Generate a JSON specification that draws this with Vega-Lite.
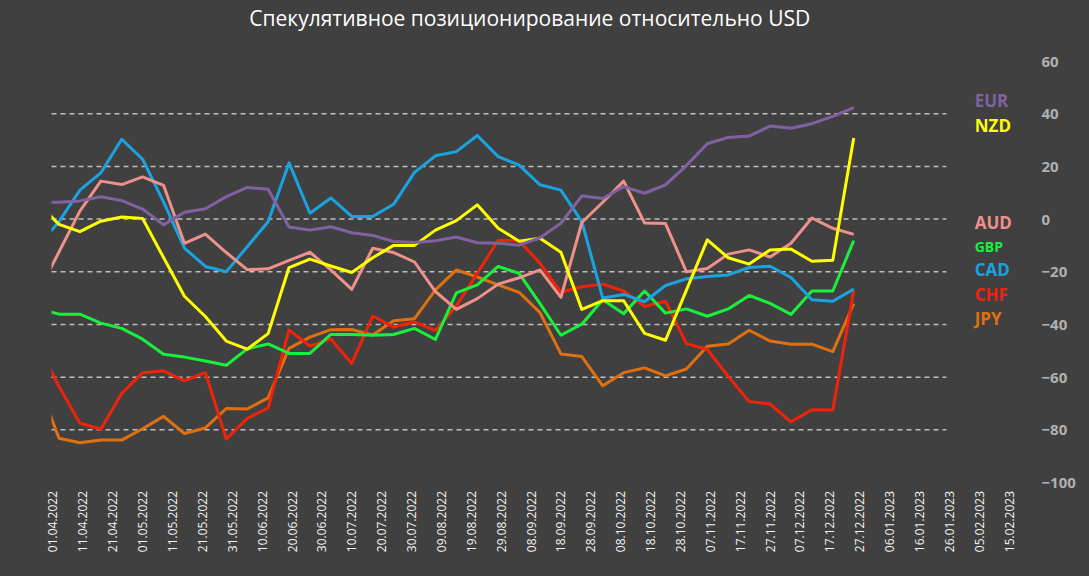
{
  "$schema": "https://vega.github.io/schema/vega-lite/v6.json",
  "width": 978.5,
  "height": 421.5,
  "autosize": "none",
  "padding": {"left": 51.5, "top": 61, "right": 59, "bottom": 93.5},
  "background": "#404040",
  "config": {"view": {"stroke": null}, "font": "Open Sans"},
  "title": {"text": "Спекулятивное позиционирование относительно USD", "color": "#FFFFFF", "fontSize": 21, "fontWeight": "normal", "font": "Open Sans", "anchor": "middle", "offset": 24, "dx": -11},
  "resolve": {"axis": {"x": "independent", "y": "independent"}},
  "datasets": {
    "cot": [
      {"d": "2022-03-27", "EUR": 6.3, "NZD": 6, "AUD": -28, "GBP": -34, "CAD": -10, "CHF": -48, "JPY": -62},
      {"d": "2022-04-03", "EUR": 6.4, "NZD": -2, "AUD": -12.5, "GBP": -36.1, "CAD": -1, "CHF": -63.6, "JPY": -83.2},
      {"d": "2022-04-10", "EUR": 6.9, "NZD": -4.8, "AUD": 3, "GBP": -36.1, "CAD": 11, "CHF": -77.4, "JPY": -84.9},
      {"d": "2022-04-17", "EUR": 8.5, "NZD": -0.8, "AUD": 14.4, "GBP": -39.5, "CAD": 17.5, "CHF": -79.8, "JPY": -83.9},
      {"d": "2022-04-24", "EUR": 7, "NZD": 0.8, "AUD": 13.1, "GBP": -41.5, "CAD": 30.3, "CHF": -66.2, "JPY": -83.9},
      {"d": "2022-05-01", "EUR": 3.8, "NZD": 0.2, "AUD": 16, "GBP": -45.6, "CAD": 22.7, "CHF": -58.3, "JPY": -79.6},
      {"d": "2022-05-08", "EUR": -2.2, "NZD": -14.6, "AUD": 12.8, "GBP": -51.3, "CAD": 6.5, "CHF": -57.6, "JPY": -74.9},
      {"d": "2022-05-15", "EUR": 2.6, "NZD": -29.3, "AUD": -9.2, "GBP": -52.4, "CAD": -11, "CHF": -61.4, "JPY": -81.4},
      {"d": "2022-05-22", "EUR": 3.9, "NZD": -37, "AUD": -5.7, "GBP": -53.9, "CAD": -18, "CHF": -58.3, "JPY": -79.3},
      {"d": "2022-05-29", "EUR": 8.5, "NZD": -46.3, "AUD": -12.7, "GBP": -55.5, "CAD": -20, "CHF": -83.5, "JPY": -71.9},
      {"d": "2022-06-05", "EUR": 12, "NZD": -49.4, "AUD": -19.2, "GBP": -49.3, "CAD": -10.5, "CHF": -75.7, "JPY": -72.1},
      {"d": "2022-06-12", "EUR": 11.3, "NZD": -43.5, "AUD": -18.9, "GBP": -47.4, "CAD": -1, "CHF": -71.7, "JPY": -67.9},
      {"d": "2022-06-19", "EUR": -3, "NZD": -18.4, "AUD": -15.7, "GBP": -51, "CAD": 21.3, "CHF": -42.1, "JPY": -49.1},
      {"d": "2022-06-26", "EUR": -4.2, "NZD": -15.2, "AUD": -12.6, "GBP": -51, "CAD": 2.2, "CHF": -48.2, "JPY": -44.8},
      {"d": "2022-07-03", "EUR": -2.9, "NZD": -17.8, "AUD": -19.3, "GBP": -43.8, "CAD": 8, "CHF": -45.5, "JPY": -42},
      {"d": "2022-07-10", "EUR": -5.2, "NZD": -20.3, "AUD": -26.7, "GBP": -43.8, "CAD": 1, "CHF": -54.8, "JPY": -41.9},
      {"d": "2022-07-17", "EUR": -6.2, "NZD": -14.7, "AUD": -11.1, "GBP": -44.1, "CAD": 1, "CHF": -36.8, "JPY": -44},
      {"d": "2022-07-24", "EUR": -8.5, "NZD": -10, "AUD": -12.7, "GBP": -43.8, "CAD": 5.6, "CHF": -41, "JPY": -38.6},
      {"d": "2022-07-31", "EUR": -8.9, "NZD": -10, "AUD": -16.3, "GBP": -41.5, "CAD": 17.7, "CHF": -39.1, "JPY": -37.8},
      {"d": "2022-08-07", "EUR": -8.2, "NZD": -4.2, "AUD": -27.5, "GBP": -45.7, "CAD": 24, "CHF": -42.3, "JPY": -26.9},
      {"d": "2022-08-14", "EUR": -6.8, "NZD": -0.6, "AUD": -34.3, "GBP": -28, "CAD": 25.6, "CHF": -33, "JPY": -19.3},
      {"d": "2022-08-21", "EUR": -9, "NZD": 5.4, "AUD": -30.2, "GBP": -25, "CAD": 31.7, "CHF": -20.6, "JPY": -22},
      {"d": "2022-08-28", "EUR": -9.2, "NZD": -3.5, "AUD": -24.7, "GBP": -18, "CAD": 23.7, "CHF": -8, "JPY": -25},
      {"d": "2022-09-04", "EUR": -9.9, "NZD": -8.4, "AUD": -22.3, "GBP": -20.6, "CAD": 20.5, "CHF": -8.2, "JPY": -27.8},
      {"d": "2022-09-11", "EUR": -7.1, "NZD": -7.3, "AUD": -19.3, "GBP": -32.1, "CAD": 13, "CHF": -16.8, "JPY": -35.5},
      {"d": "2022-09-18", "EUR": -1.6, "NZD": -12.6, "AUD": -29.7, "GBP": -44.1, "CAD": 11, "CHF": -27.8, "JPY": -51.2},
      {"d": "2022-09-25", "EUR": 8.8, "NZD": -34.3, "AUD": -1.3, "GBP": -39.9, "CAD": -1, "CHF": -25.7, "JPY": -52.2},
      {"d": "2022-10-02", "EUR": 7.8, "NZD": -31, "AUD": 6.4, "GBP": -30.6, "CAD": -30, "CHF": -24.7, "JPY": -63.3},
      {"d": "2022-10-09", "EUR": 12.3, "NZD": -31, "AUD": 14.4, "GBP": -35.9, "CAD": -28.6, "CHF": -27.3, "JPY": -58.3},
      {"d": "2022-10-16", "EUR": 9.8, "NZD": -43.4, "AUD": -1.5, "GBP": -27.3, "CAD": -31.4, "CHF": -33.2, "JPY": -56.5},
      {"d": "2022-10-23", "EUR": 13, "NZD": -46, "AUD": -1.7, "GBP": -35.7, "CAD": -25.2, "CHF": -31.2, "JPY": -59.5},
      {"d": "2022-10-30", "EUR": 20.3, "NZD": -27, "AUD": -20, "GBP": -34.1, "CAD": -22.7, "CHF": -47.3, "JPY": -56.9},
      {"d": "2022-11-06", "EUR": 28.6, "NZD": -7.9, "AUD": -18.8, "GBP": -36.9, "CAD": -21.8, "CHF": -49.5, "JPY": -48.3},
      {"d": "2022-11-13", "EUR": 31, "NZD": -14.7, "AUD": -13.3, "GBP": -34.1, "CAD": -21.2, "CHF": -59.7, "JPY": -47.4},
      {"d": "2022-11-20", "EUR": 31.5, "NZD": -17.1, "AUD": -11.7, "GBP": -29, "CAD": -18.4, "CHF": -69.3, "JPY": -42.2},
      {"d": "2022-11-27", "EUR": 35.3, "NZD": -11.7, "AUD": -14.4, "GBP": -32, "CAD": -17.9, "CHF": -70.2, "JPY": -46.3},
      {"d": "2022-12-04", "EUR": 34.5, "NZD": -11.4, "AUD": -9.2, "GBP": -36.2, "CAD": -22.2, "CHF": -77, "JPY": -47.5},
      {"d": "2022-12-11", "EUR": 36.2, "NZD": -16, "AUD": 0.4, "GBP": -27.3, "CAD": -30.6, "CHF": -72.4, "JPY": -47.5},
      {"d": "2022-12-18", "EUR": 39, "NZD": -15.6, "AUD": -3.5, "GBP": -27.3, "CAD": -31.2, "CHF": -72.5, "JPY": -50.3},
      {"d": "2022-12-25", "EUR": 42.3, "NZD": 30.8, "AUD": -5.8, "GBP": -8.2, "CAD": -26.6, "CHF": -27.2, "JPY": -32.1}
    ],
    "grid": [{"g": -80}, {"g": -60}, {"g": -40}, {"g": -20}, {"g": 0}, {"g": 20}, {"g": 40}],
    "labels": [
      {"cur": "EUR", "slot": 44.5},
      {"cur": "NZD", "slot": 35},
      {"cur": "AUD", "slot": -1.9},
      {"cur": "GBP", "slot": -11},
      {"cur": "CAD", "slot": -19.7},
      {"cur": "CHF", "slot": -29.2},
      {"cur": "JPY", "slot": -38.2}
    ]
  },
  "layer": [
    {
      "data": {"name": "grid"},
      "mark": {"type": "rule", "color": "#BFBFBF", "strokeWidth": 1.5, "strokeDash": [5, 4]},
      "encoding": {
        "y": {"field": "g", "type": "quantitative", "axis": null},
        "x": {"datum": {"year": 2022, "month": 3, "date": 31, "hours": 12, "utc": true}, "type": "temporal", "scale": {"type": "utc"}, "axis": null},
        "x2": {"datum": {"year": 2023, "month": 1, "date": 25, "utc": true}}
      }
    },
    {
      "data": {"name": "cot"},
      "transform": [{"fold": ["JPY", "CHF", "GBP", "CAD", "AUD", "NZD", "EUR"], "as": ["cur", "v"]}],
      "mark": {"type": "line", "strokeWidth": 3, "clip": true, "strokeJoin": "round"},
      "encoding": {
        "x": {
          "field": "d", "type": "temporal",
          "scale": {"type": "utc", "domain": [{"year": 2022, "month": 3, "date": 31, "hours": 12, "utc": true}, {"year": 2023, "month": 2, "date": 22, "utc": true}]},
          "axis": {
            "values": [
              {"year": 2022, "month": 4, "date": 1, "utc": true}, {"year": 2022, "month": 4, "date": 11, "utc": true}, {"year": 2022, "month": 4, "date": 21, "utc": true},
              {"year": 2022, "month": 5, "date": 1, "utc": true}, {"year": 2022, "month": 5, "date": 11, "utc": true}, {"year": 2022, "month": 5, "date": 21, "utc": true}, {"year": 2022, "month": 5, "date": 31, "utc": true},
              {"year": 2022, "month": 6, "date": 10, "utc": true}, {"year": 2022, "month": 6, "date": 20, "utc": true}, {"year": 2022, "month": 6, "date": 30, "utc": true},
              {"year": 2022, "month": 7, "date": 10, "utc": true}, {"year": 2022, "month": 7, "date": 20, "utc": true}, {"year": 2022, "month": 7, "date": 30, "utc": true},
              {"year": 2022, "month": 8, "date": 9, "utc": true}, {"year": 2022, "month": 8, "date": 19, "utc": true}, {"year": 2022, "month": 8, "date": 29, "utc": true},
              {"year": 2022, "month": 9, "date": 8, "utc": true}, {"year": 2022, "month": 9, "date": 18, "utc": true}, {"year": 2022, "month": 9, "date": 28, "utc": true},
              {"year": 2022, "month": 10, "date": 8, "utc": true}, {"year": 2022, "month": 10, "date": 18, "utc": true}, {"year": 2022, "month": 10, "date": 28, "utc": true},
              {"year": 2022, "month": 11, "date": 7, "utc": true}, {"year": 2022, "month": 11, "date": 17, "utc": true}, {"year": 2022, "month": 11, "date": 27, "utc": true},
              {"year": 2022, "month": 12, "date": 7, "utc": true}, {"year": 2022, "month": 12, "date": 17, "utc": true}, {"year": 2022, "month": 12, "date": 27, "utc": true},
              {"year": 2023, "month": 1, "date": 6, "utc": true}, {"year": 2023, "month": 1, "date": 16, "utc": true}, {"year": 2023, "month": 1, "date": 26, "utc": true},
              {"year": 2023, "month": 2, "date": 5, "utc": true}, {"year": 2023, "month": 2, "date": 15, "utc": true}
            ],
            "format": "%d.%m.%Y", "labelAngle": 270, "labelColor": "#F2F2F2", "labelFontSize": 12, "labelPadding": 8,
            "domain": false, "ticks": false, "grid": false, "title": null, "labelOverlap": false, "labelBound": false, "labelFlush": false
          }
        },
        "y": {
          "field": "v", "type": "quantitative",
          "scale": {"domain": [-100, 60], "nice": false, "zero": false},
          "axis": {"orient": "right", "values": [-100, -80, -60, -40, -20, 0, 20, 40, 60], "labelAlign": "left", "labelPadding": 11, "labelColor": "#B0B0B0", "labelFontSize": 15, "labelFontWeight": "bold", "domain": false, "ticks": false, "grid": false, "title": null, "labelBound": false, "labelFlush": false}
        },
        "color": {
          "field": "cur", "type": "nominal",
          "scale": {"domain": ["JPY", "CHF", "GBP", "CAD", "AUD", "NZD", "EUR"], "range": ["#E0700F", "#F0230A", "#19F03C", "#1AA3E0", "#EE918A", "#FFFF00", "#8062A2"]},
          "legend": null
        }
      }
    },
    {
      "data": {"name": "labels"},
      "mark": {"type": "text", "align": "left", "baseline": "middle", "fontWeight": "bold"},
      "encoding": {
        "x": {"datum": {"year": 2023, "month": 2, "date": 3, "hours": 12, "utc": true}, "type": "temporal", "scale": {"type": "utc"}, "axis": null},
        "y": {"field": "slot", "type": "quantitative", "axis": null},
        "text": {"field": "cur"},
        "size": {"condition": {"test": "datum.cur === 'GBP'", "value": 14}, "value": 17},
        "color": {
          "field": "cur", "type": "nominal",
          "scale": {"domain": ["JPY", "CHF", "GBP", "CAD", "AUD", "NZD", "EUR"], "range": ["#E07A1A", "#E8140C", "#19E83A", "#1AA8E2", "#D99594", "#FFFF00", "#A99BC9"]},
          "legend": null
        }
      }
    }
  ]
}
